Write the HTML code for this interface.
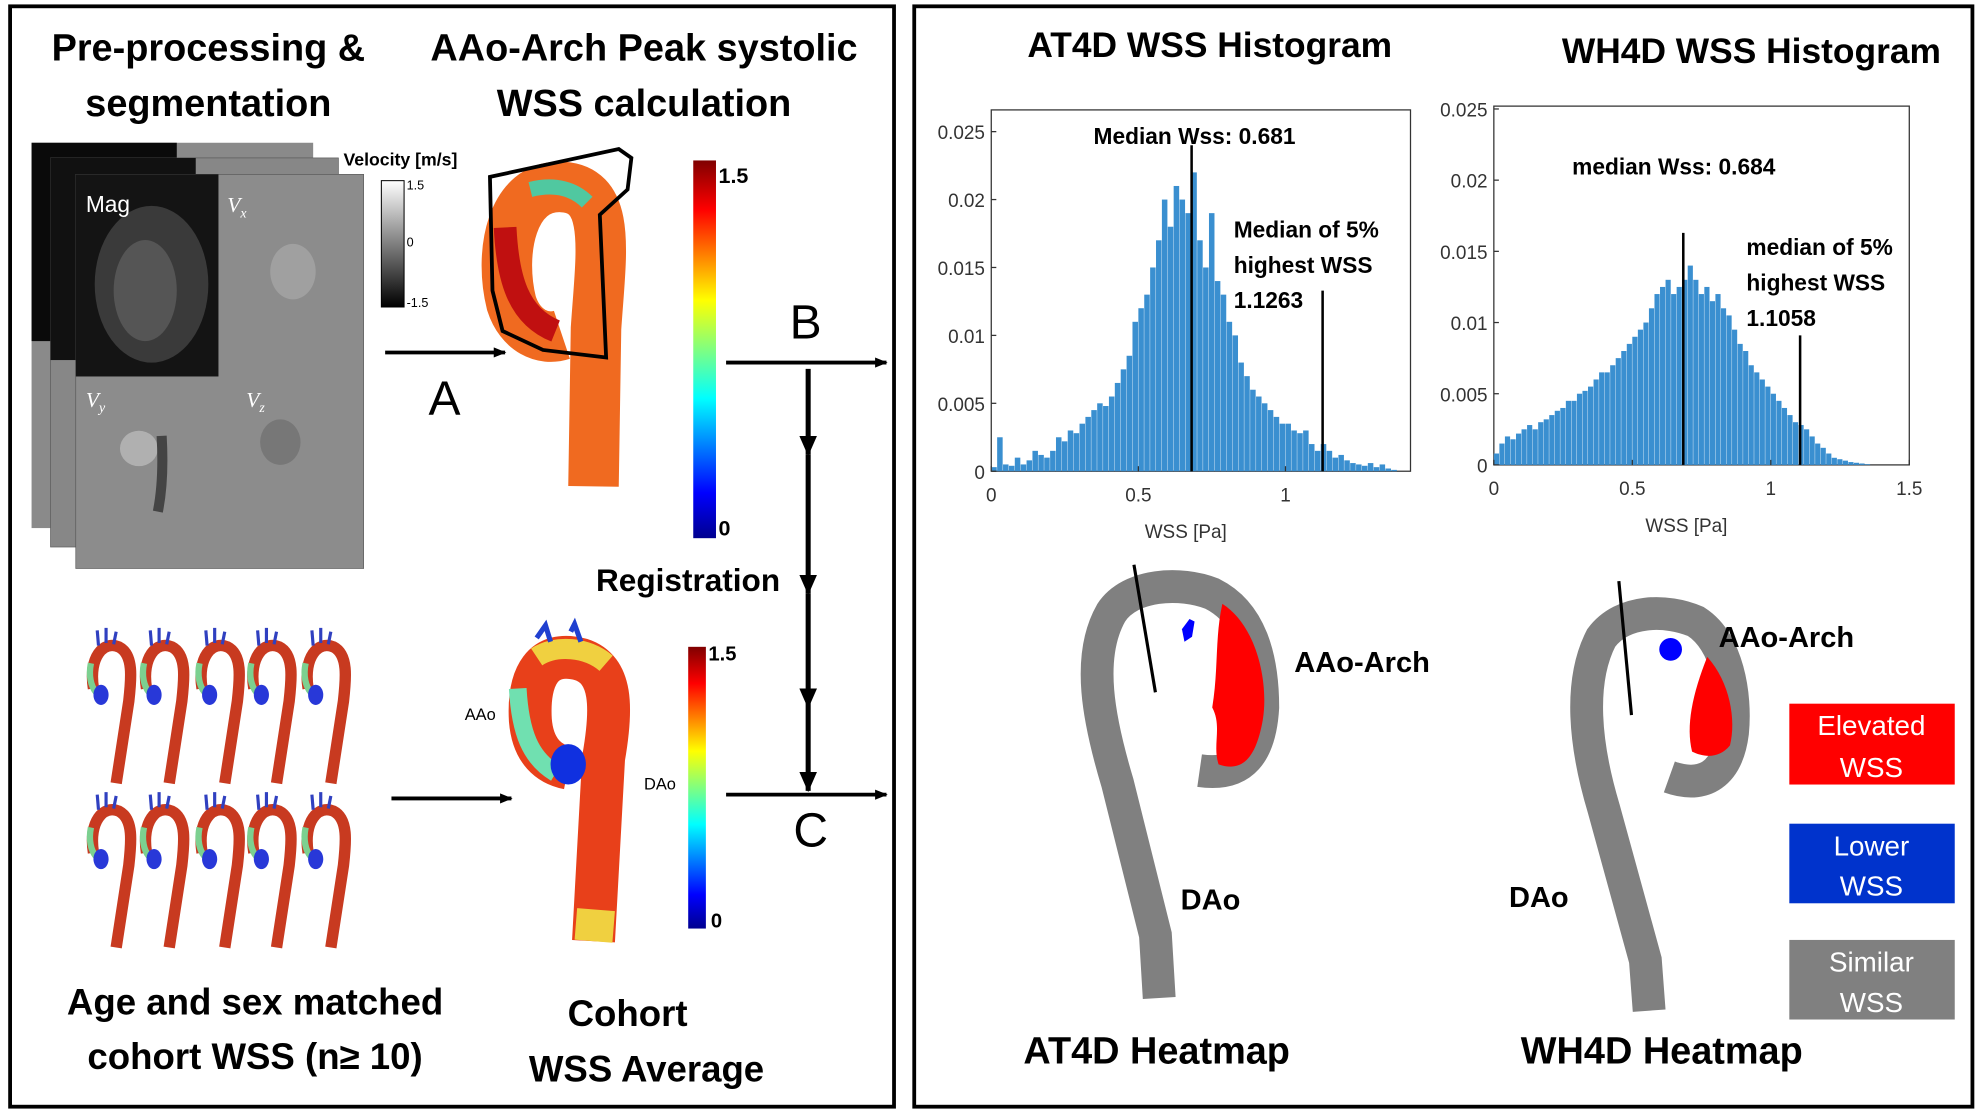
<!DOCTYPE html>
<html><head><meta charset="utf-8">
<style>
html,body{margin:0;padding:0;background:#fff;}
svg{display:block;}
.t{font-family:"Liberation Sans",sans-serif;font-weight:bold;fill:#000;}
.n{font-family:"Liberation Sans",sans-serif;fill:#000;}
.ax{font-family:"Liberation Sans",sans-serif;fill:#333;font-size:15px;}
</style></head>
<body>
<svg id="fig" width="1980" height="1113" viewBox="0 0 1568 881" preserveAspectRatio="none" xmlns="http://www.w3.org/2000/svg">
<defs>
<linearGradient id="jet" x1="0" y1="1" x2="0" y2="0">
<stop offset="0" stop-color="#00008f"/><stop offset="0.12" stop-color="#0000ff"/><stop offset="0.37" stop-color="#00ffff"/><stop offset="0.5" stop-color="#80ff80"/><stop offset="0.63" stop-color="#ffff00"/><stop offset="0.87" stop-color="#ff0000"/><stop offset="1" stop-color="#800000"/>
</linearGradient>
<linearGradient id="gray" x1="0" y1="0" x2="0" y2="1"><stop offset="0" stop-color="#fff"/><stop offset="1" stop-color="#000"/></linearGradient>
<marker id="ah" markerWidth="10" markerHeight="10" refX="9" refY="5" orient="auto" markerUnits="userSpaceOnUse"><path d="M0,1 L10,5 L0,9 Z" fill="#000"/></marker>
<marker id="ahd" markerWidth="16" markerHeight="14" refX="15" refY="7" orient="auto" markerUnits="userSpaceOnUse"><path d="M0,0 L16,7 L0,14 Z" fill="#000"/></marker>
</defs>

<rect x="8" y="5" width="700" height="871" fill="none" stroke="#000" stroke-width="3"/>
<rect x="724" y="5" width="838" height="871" fill="none" stroke="#000" stroke-width="3"/>

<text class="t" x="165" y="48" font-size="30" text-anchor="middle">Pre-processing &amp;</text>
<text class="t" x="165" y="92" font-size="30" text-anchor="middle">segmentation</text>
<text class="t" x="510" y="48" font-size="30" text-anchor="middle">AAo-Arch Peak systolic</text>
<text class="t" x="510" y="92" font-size="30" text-anchor="middle">WSS calculation</text>

<g>
<rect x="25" y="113" width="223" height="305" fill="#8a8a8a"/>
<rect x="25" y="113" width="115" height="157" fill="#0a0a0a"/>
<rect x="40" y="125" width="228" height="308" fill="#878787" stroke="#555" stroke-width="0.5"/>
<rect x="40" y="125" width="115" height="160" fill="#111"/>
<rect x="60" y="138" width="228" height="312" fill="#8c8c8c" stroke="#555" stroke-width="0.5"/>
<rect x="60" y="138" width="113" height="160" fill="#141414"/>
<ellipse cx="120" cy="225" rx="45" ry="62" fill="#3a3a3a"/>
<ellipse cx="115" cy="230" rx="25" ry="40" fill="#555"/>
<ellipse cx="232" cy="215" rx="18" ry="22" fill="#a0a0a0"/>
<ellipse cx="110" cy="355" rx="15" ry="14" fill="#b0b0b0"/>
<path d="M128,345 Q130,380 125,405" stroke="#444" stroke-width="8" fill="none"/>
<ellipse cx="222" cy="350" rx="16" ry="18" fill="#777"/>
<text x="68" y="168" font-size="18" fill="#fff" font-family="Liberation Sans,sans-serif">Mag</text>
<text x="180" y="168" font-size="17" fill="#fff" font-style="italic" font-family="Liberation Serif,serif">V<tspan font-size="11" dy="4">x</tspan></text>
<text x="68" y="322" font-size="17" fill="#fff" font-style="italic" font-family="Liberation Serif,serif">V<tspan font-size="11" dy="4">y</tspan></text>
<text x="195" y="322" font-size="17" fill="#fff" font-style="italic" font-family="Liberation Serif,serif">V<tspan font-size="11" dy="4">z</tspan></text>
</g>
<text class="t" x="272" y="131" font-size="14">Velocity [m/s]</text>
<rect x="302" y="143" width="18" height="100" fill="url(#gray)" stroke="#000" stroke-width="0.8"/>
<text class="n" x="322" y="150" font-size="10">1.5</text>
<text class="n" x="322" y="195" font-size="10">0</text>
<text class="n" x="322" y="243" font-size="10">-1.5</text>

<g>
<path d="M470,385 L472,260 C476,200 485,150 445,148 C405,146 395,200 405,240 C412,262 430,270 445,265" stroke="#f06a20" stroke-width="40" fill="none" stroke-linecap="butt"/>
<path d="M400,180 C402,220 410,250 440,262" stroke="#c01010" stroke-width="18" fill="none"/>
<path d="M420,150 C440,145 455,150 465,160" stroke="#50c8a0" stroke-width="12" fill="none"/>
<path d="M388,140 L490,118 L500,125 L497,150 L475,170 L480,283 L430,277 L398,262 L390,230 Z" fill="none" stroke="#000" stroke-width="3"/>
</g>
<rect x="549" y="127" width="18" height="299" fill="url(#jet)"/>
<text class="t" x="569" y="145" font-size="17">1.5</text>
<text class="t" x="569" y="424" font-size="17">0</text>

<line x1="305" y1="279" x2="400" y2="279" stroke="#000" stroke-width="3" marker-end="url(#ah)"/>
<text class="n" x="352" y="328" font-size="38" text-anchor="middle">A</text>
<line x1="575" y1="287" x2="702" y2="287" stroke="#000" stroke-width="3" marker-end="url(#ah)"/>
<text class="n" x="638" y="268" font-size="38" text-anchor="middle">B</text>
<line x1="640" y1="292" x2="640" y2="360" stroke="#000" stroke-width="4" marker-end="url(#ahd)"/>
<line x1="640" y1="360" x2="640" y2="470" stroke="#000" stroke-width="4" marker-end="url(#ahd)"/>
<line x1="640" y1="470" x2="640" y2="560" stroke="#000" stroke-width="4" marker-end="url(#ahd)"/>
<line x1="640" y1="560" x2="640" y2="626" stroke="#000" stroke-width="4" marker-end="url(#ahd)"/>
<line x1="575" y1="629" x2="702" y2="629" stroke="#000" stroke-width="3" marker-end="url(#ah)"/>
<text class="n" x="642" y="670" font-size="38" text-anchor="middle">C</text>
<line x1="310" y1="632" x2="405" y2="632" stroke="#000" stroke-width="3" marker-end="url(#ah)"/>
<text class="t" x="472" y="468" font-size="25">Registration</text>

<g id="cohort"></g>

<g>
<path d="M470,745 L478,600 C485,560 485,530 460,522 C430,514 418,535 420,570 C422,595 435,605 450,608" stroke="#e8401a" stroke-width="34" fill="none"/>
<path d="M410,545 C412,580 420,600 440,612" stroke="#70e0b0" stroke-width="14" fill="none"/>
<path d="M425,520 C440,510 465,512 480,525" stroke="#f0d040" stroke-width="16" fill="none"/>
<path d="M470,745 L472,720" stroke="#f0d040" stroke-width="30" fill="none"/>
<ellipse cx="450" cy="605" rx="14" ry="16" fill="#1030e0"/>
<path d="M425,505 L432,495 L436,508 M452,500 L455,494 L460,508" stroke="#2040d0" stroke-width="4" fill="none"/>
</g>
<text class="n" x="368" y="570" font-size="13" fill="#555">AAo</text>
<text class="n" x="510" y="625" font-size="13" fill="#555">DAo</text>
<rect x="545" y="512" width="14" height="223" fill="url(#jet)"/>
<text class="t" x="561" y="523" font-size="16">1.5</text>
<text class="t" x="563" y="734" font-size="16">0</text>

<text class="t" x="202" y="803" font-size="29" text-anchor="middle">Age and sex matched</text>
<text class="t" x="202" y="846" font-size="29" text-anchor="middle">cohort WSS (n≥ 10)</text>
<text class="t" x="497" y="812" font-size="29" text-anchor="middle">Cohort</text>
<text class="t" x="512" y="856" font-size="29" text-anchor="middle">WSS Average</text>

<text class="t" x="958" y="45" font-size="28" text-anchor="middle">AT4D WSS Histogram</text>
<text class="t" x="1387" y="50" font-size="28" text-anchor="middle">WH4D WSS Histogram</text>

<g id="h1"></g>
<g id="h2"></g>

<g>
<path d="M918,790 L915,740 L885,620 C870,570 860,520 880,485 C895,462 935,460 960,470 C990,485 1000,520 1000,560 C998,595 985,615 950,610" stroke="#808080" stroke-width="26" fill="none"/>
<path d="M968,478 C995,495 1005,540 1000,570 C995,598 985,612 965,605 C960,590 968,575 960,560 C965,530 962,505 968,478 Z" fill="#ff0000"/>
<path d="M942,490 l-6,8 l2,10 l6,-4 l2,-12 Z" fill="#0000ff"/>
<line x1="898" y1="447" x2="915" y2="548" stroke="#000" stroke-width="2.5"/>
</g>
<text class="t" x="1025" y="532" font-size="23">AAo-Arch</text>
<text class="t" x="935" y="720" font-size="23">DAo</text>
<text class="t" x="916" y="842" font-size="30" text-anchor="middle">AT4D Heatmap</text>

<g>
<path d="M1306,800 L1303,760 L1270,640 C1255,590 1250,540 1268,505 C1285,482 1320,482 1343,492 C1368,508 1375,550 1372,580 C1368,612 1350,625 1322,615" stroke="#808080" stroke-width="26" fill="none"/>
<path d="M1352,520 C1370,540 1375,570 1370,590 C1362,600 1350,600 1340,595 C1335,575 1340,550 1352,520 Z" fill="#ff0000"/>
<ellipse cx="1323" cy="514" rx="9" ry="9" fill="#0000ff"/>
<line x1="1282" y1="460" x2="1292" y2="566" stroke="#000" stroke-width="2.5"/>
</g>
<text class="t" x="1361" y="512" font-size="23">AAo-Arch</text>
<text class="t" x="1195" y="718" font-size="23">DAo</text>
<text class="t" x="1316" y="842" font-size="30" text-anchor="middle">WH4D Heatmap</text>

<g><rect x="1417" y="557" width="131" height="64" fill="#ff0000"/>
<text class="n" x="1482" y="582" font-size="22" style="fill:#fff" text-anchor="middle">Elevated</text><text class="n" x="1482" y="615" font-size="22" style="fill:#fff" text-anchor="middle">WSS</text></g>
<g><rect x="1417" y="652" width="131" height="63" fill="#0033cc"/>
<text class="n" x="1482" y="677" font-size="22" style="fill:#fff" text-anchor="middle">Lower</text><text class="n" x="1482" y="709" font-size="22" style="fill:#fff" text-anchor="middle">WSS</text></g>
<g><rect x="1417" y="744" width="131" height="63" fill="#808080"/>
<text class="n" x="1482" y="769" font-size="22" style="fill:#fff" text-anchor="middle">Similar</text><text class="n" x="1482" y="801" font-size="22" style="fill:#fff" text-anchor="middle">WSS</text></g>
</svg>

<script>
const at4dBinStart = 0;
const at4dBinWidth = 0.02;
const at4dValues = [0.3,2.5,0.5,0.4,1.0,0.5,0.8,1.5,1.2,1.0,
 1.5,2.5,2.2,3.0,2.8,3.5,4.0,4.5,5.0,4.8,
 5.5,6.5,7.5,8.5,11,12,13,15,17,20,
 18,21,20,19,22,17,15,19,14,13,
 11,10,8,7,6,5.5,5,4.5,4,3.5,
 3.5,3,2.8,3,2,1.5,2,1.5,1,1.2,
 0.8,0.6,0.5,0.4,0.6,0.3,0.5,0.2,0.1,0];
const at4dXTicks = [0,0.5,1];
const at4dYTicks = [0,0.005,0.01,0.015,0.02,0.025];
const at4dMedians = [0.681,1.1263];
const wh4dBinStart = 0;
const wh4dBinWidth = 0.02;
const wh4dValues = [0.8,1.5,2,1.8,2.2,2.5,2.8,2.5,3,3.2,
 3.5,3.8,4,4.5,4.5,5,5.2,5.5,6,6.5,
 6.5,7,7.5,8,8.5,9,9.5,10,11,12,
 12.5,13,12,12.5,13,14,13,12,12.5,11.5,
 12,11,10.5,9.5,8.5,8,7,6.5,6,5.5,
 5,4.5,4,3.5,3,2.8,2.5,2,1.5,1.2,
 0.8,0.5,0.4,0.3,0.2,0.15,0.1,0.05,0,0,
 0,0,0,0,0];
const wh4dXTicks = [0,0.5,1,1.5];
const wh4dYTicks = [0,0.005,0.01,0.015,0.02,0.025];
const wh4dMedians = [0.684,1.1058];

const NS = "http://www.w3.org/2000/svg";
function mk(parent, tag, attrs, text){
  const e = document.createElementNS(NS, tag);
  for (const k in attrs) e.setAttribute(k, attrs[k]);
  if (text !== undefined) e.textContent = text;
  parent.appendChild(e); return e;
}
function hist(gid, box, xmax, ymax, start, bw, vals, xt, yt, meds, medTops, labels){
  const g = document.getElementById(gid);
  const xs = v => box.x + (v / xmax) * box.w;
  const ys = v => box.y + box.h - (v / ymax) * box.h;
  const frame = mk(g, 'rect', {x:box.x, y:box.y, width:box.w, height:box.h, fill:'#fff', stroke:'#333', 'stroke-width':1});
  
  
  vals.forEach((v, i) => {
    const x0 = xs(start + i * bw), x1 = xs(start + (i + 1) * bw);
    const r = mk(g, 'rect', {x:x0, y:ys(v / 1000), width:Math.max(0.5, x1 - x0 - 0.3), height:ys(0) - ys(v / 1000), fill:'#3a8fd0'});
    
    
  });
  xt.forEach(t => {
    mk(g, 'line', {x1:xs(t), x2:xs(t), y1:box.y + box.h, y2:box.y + box.h - 4, stroke:'#333'});
    const l = mk(g, 'text', {x:xs(t), y:box.y + box.h + 24, 'text-anchor':'middle', class:'ax', 'font-size':16}, String(t));
    
    
  });
  yt.forEach(t => {
    mk(g, 'line', {x1:box.x, x2:box.x + 4, y1:ys(t), y2:ys(t), stroke:'#333'});
    const l = mk(g, 'text', {x:box.x - 5, y:ys(t) + 6, 'text-anchor':'end', class:'ax', 'font-size':16}, String(t));
    
    
  });
  meds.forEach((m, i) => {
    const ln = mk(g, 'line', {x1:xs(m), x2:xs(m), y1:ys(0), y2:ys(medTops[i]), stroke:'#000', 'stroke-width':2});
    
    
  });
  const xl = mk(g, 'text', {x:box.x + box.w * 0.5 - 12, y:box.y + box.h + 53, 'text-anchor':'middle', class:'ax', 'font-size':19}, 'WSS [Pa]');
  
  
  labels.forEach(L => {
    const t = mk(g, 'text', {x:L[0], y:L[1], class:'t', 'font-size':18}, L[2]);
    
    
  });
}
hist('h1', {x:785, y:87, w:332, h:286}, 1.425, 0.0266, at4dBinStart, at4dBinWidth, at4dValues, at4dXTicks, at4dYTicks, at4dMedians, [0.024, 0.0133],
 [[866,114,'Median Wss: 0.681'],[977,188,'Median of 5%'],[977,216,'highest WSS'],[977,244,'1.1263']]);
hist('h2', {x:1183, y:84, w:329, h:284}, 1.5, 0.0252, wh4dBinStart, wh4dBinWidth, wh4dValues, wh4dXTicks, wh4dYTicks, wh4dMedians, [0.0163, 0.0091],
 [[1245,138,'median Wss: 0.684'],[1383,202,'median of 5%'],[1383,230,'highest WSS'],[1383,258,'1.1058']]);

const cohortBulbX = [80,122,166,207,250];
const cohortRowY = [515,645];
const cg = document.getElementById('cohort');
cohortRowY.forEach(y => cohortBulbX.forEach(x => {
  const g = mk(cg, 'g', {transform:'translate(' + (x + 2) + ',' + y + ')'});
  
  
  mk(g, 'path', {d:'M-8,30 C-12,5 0,-8 12,-3 C24,3 22,22 20,40 L10,105', stroke:'#c83a20', 'stroke-width':9, fill:'none'});
  mk(g, 'path', {d:'M-10,10 C-12,20 -10,28 -6,33', stroke:'#7cd090', 'stroke-width':5, fill:'none'});
  mk(g, 'ellipse', {cx:-2, cy:35, rx:6, ry:8, fill:'#2838d8'});
  mk(g, 'path', {d:'M-4,-4 L-5,-16 M2,-6 L2,-18 M8,-5 L10,-15', stroke:'#3040c0', 'stroke-width':2.5, fill:'none'});
}));
</script>
</body></html>
